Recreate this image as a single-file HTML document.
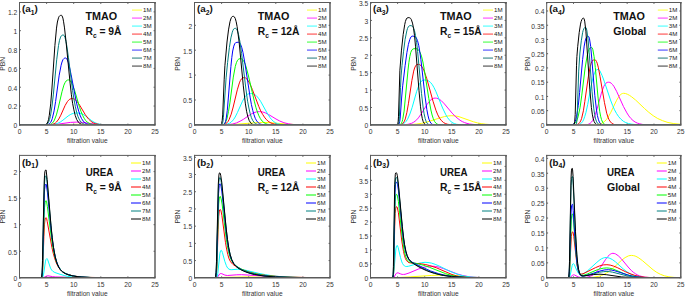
<!DOCTYPE html><html><head><meta charset="utf-8"><style>html,body{margin:0;padding:0;background:#fff;overflow:hidden}svg{display:block}text{font-family:"Liberation Sans",sans-serif}</style></head><body>
<svg width="685" height="296" viewBox="0 0 685 296">
<rect x="0" y="0" width="685" height="296" fill="#fff"/>
<clipPath id="ca1"><rect x="19.5" y="2.5" width="135.5" height="121.75"/></clipPath>
<g clip-path="url(#ca1)" fill="none" stroke-width="1.0" stroke-linejoin="round">
<path d="M19.5,124.9 L50.1,124.8 L79.1,124.3 L110.1,124.9 L155.0,124.9" stroke="#ffff00"/>
<path d="M19.5,124.9 L43.4,124.9 L51.9,124.7 L58.5,124.1 L70.4,122.4 L76.4,122.1 L82.3,122.4 L96.0,124.2 L103.5,124.7 L114.5,124.9 L155.0,124.9" stroke="#ff00ff"/>
<path d="M19.5,124.9 L47.8,124.9 L51.7,124.7 L54.7,124.3 L57.7,123.3 L60.5,121.9 L62.9,120.2 L68.1,116.0 L70.8,114.3 L73.7,113.2 L77.0,112.9 L80.0,113.2 L82.7,114.2 L85.4,115.8 L91.2,120.3 L94.0,122.2 L97.2,123.6 L100.6,124.4 L104.0,124.8 L108.6,124.9 L155.0,124.9" stroke="#00ffff"/>
<path d="M19.5,124.9 L48.6,124.9 L51.9,124.5 L54.1,123.8 L55.3,123.1 L56.5,122.0 L58.8,119.0 L60.8,115.2 L65.1,105.5 L67.4,101.6 L68.6,100.2 L69.8,99.2 L71.1,98.7 L72.6,98.6 L73.7,98.8 L74.9,99.4 L76.1,100.4 L77.3,101.8 L79.6,105.1 L85.3,114.7 L88.6,119.1 L90.3,120.7 L91.9,122.0 L93.7,123.0 L95.5,123.7 L99.4,124.5 L105.2,124.8 L155.0,124.9" stroke="#ff0000"/>
<path d="M19.5,124.9 L47.4,124.8 L50.2,124.4 L51.3,123.9 L52.3,123.1 L53.4,121.9 L54.4,120.1 L56.4,114.9 L58.2,108.1 L62.0,91.7 L63.9,85.1 L65.0,82.7 L66.2,80.9 L67.4,80.1 L68.7,79.9 L69.6,80.1 L70.7,81.1 L71.7,82.9 L72.8,85.3 L74.8,91.1 L79.6,107.4 L81.1,111.7 L82.6,115.3 L84.1,118.2 L85.6,120.4 L87.2,122.1 L89.1,123.3 L90.7,124.0 L92.5,124.4 L97.6,124.8 L155.0,124.9" stroke="#00ff00"/>
<path d="M19.5,124.9 L46.3,124.8 L47.7,124.6 L48.7,124.2 L49.6,123.6 L50.5,122.6 L51.4,121.0 L52.3,118.5 L54.1,110.9 L55.6,101.5 L59.2,75.2 L61.1,65.3 L62.0,62.0 L63.0,59.6 L64.1,58.4 L64.7,58.1 L65.6,58.0 L66.5,58.5 L67.4,60.0 L68.3,62.4 L69.3,66.2 L71.1,74.7 L75.8,99.4 L77.3,106.1 L78.7,111.1 L80.0,115.1 L81.5,118.5 L83.2,121.1 L85.0,122.8 L86.5,123.7 L88.3,124.3 L90.4,124.7 L93.3,124.8 L155.0,124.9" stroke="#0000ff"/>
<path d="M19.5,124.9 L44.8,124.8 L46.0,124.6 L47.1,124.0 L48.0,123.1 L48.7,121.8 L49.6,119.4 L50.4,116.4 L52.0,106.2 L53.4,94.1 L56.7,59.8 L58.5,45.6 L59.5,40.3 L60.6,37.1 L61.2,36.0 L61.8,35.4 L62.4,35.1 L63.3,35.0 L64.1,35.5 L65.0,37.5 L65.9,41.0 L66.8,45.8 L68.4,57.2 L72.6,90.5 L74.0,99.4 L75.4,106.8 L76.7,112.6 L78.1,116.9 L79.6,120.1 L81.4,122.5 L82.7,123.5 L84.4,124.3 L86.3,124.7 L89.1,124.8 L155.0,124.9" stroke="#008080"/>
<path d="M19.5,124.9 L44.5,124.8 L45.5,124.6 L46.4,124.1 L47.2,123.1 L47.8,121.9 L48.6,119.3 L49.3,115.3 L50.7,103.9 L51.9,89.0 L54.9,45.5 L56.5,28.1 L57.4,22.0 L58.5,17.8 L59.1,16.5 L59.7,15.8 L60.5,15.4 L61.4,15.3 L61.8,15.5 L62.1,16.0 L62.9,18.1 L63.6,21.8 L64.5,27.9 L66.0,41.3 L70.1,83.2 L71.4,94.8 L72.6,103.3 L73.9,109.9 L75.2,115.4 L76.7,119.5 L78.4,122.2 L79.7,123.4 L81.2,124.2 L83.0,124.6 L85.6,124.8 L155.0,124.9" stroke="#000000"/>
</g>
<path d="M19.5,2.0V125.6M19.0,2.5H155.7" fill="none" stroke="#5a5a5a" stroke-width="1"/>
<path d="M155.0,2.0V125.7M19.0,125.0H155.7" fill="none" stroke="#5a5a5a" stroke-width="1.45"/>
<text x="19.50" y="134.20" font-size="6.7" fill="#333" text-anchor="middle">0</text>
<text x="46.60" y="134.20" font-size="6.7" fill="#333" text-anchor="middle">5</text>
<text x="73.70" y="134.20" font-size="6.7" fill="#333" text-anchor="middle">10</text>
<text x="100.80" y="134.20" font-size="6.7" fill="#333" text-anchor="middle">15</text>
<text x="127.90" y="134.20" font-size="6.7" fill="#333" text-anchor="middle">20</text>
<text x="155.00" y="134.20" font-size="6.7" fill="#333" text-anchor="middle">25</text>
<text x="17.20" y="128.20" font-size="6.7" fill="#333" text-anchor="end">0</text>
<text x="17.20" y="109.36" font-size="6.7" fill="#333" text-anchor="end">0.2</text>
<text x="17.20" y="90.52" font-size="6.7" fill="#333" text-anchor="end">0.4</text>
<text x="17.20" y="71.68" font-size="6.7" fill="#333" text-anchor="end">0.6</text>
<text x="17.20" y="52.84" font-size="6.7" fill="#333" text-anchor="end">0.8</text>
<text x="17.20" y="34.00" font-size="6.7" fill="#333" text-anchor="end">1</text>
<text x="17.20" y="15.16" font-size="6.7" fill="#333" text-anchor="end">1.2</text>
<path d="M19.50,125.0v-1.4M19.50,2.5v1.4M46.60,125.0v-1.4M46.60,2.5v1.4M73.70,125.0v-1.4M73.70,2.5v1.4M100.80,125.0v-1.4M100.80,2.5v1.4M127.90,125.0v-1.4M127.90,2.5v1.4M155.00,125.0v-1.4M155.00,2.5v1.4M19.5,124.90h1.4M155.0,124.90h-1.4M19.5,106.06h1.4M155.0,106.06h-1.4M19.5,87.22h1.4M155.0,87.22h-1.4M19.5,68.38h1.4M155.0,68.38h-1.4M19.5,49.54h1.4M155.0,49.54h-1.4M19.5,30.70h1.4M155.0,30.70h-1.4M19.5,11.86h1.4M155.0,11.86h-1.4" stroke="#5a5a5a" stroke-width="1.0"/>
<text x="87.25" y="143.00" font-size="6.6" fill="#333" text-anchor="middle">filtration value</text>
<text transform="translate(5.00,63.75) rotate(-90)" font-size="6.8" fill="#333" text-anchor="middle">PBN</text>
<text x="22.10" y="12.40" font-size="9.8" font-weight="bold" fill="#111">(<tspan>a</tspan><tspan font-size="6.8" dy="2.4">1</tspan><tspan dy="-2.4">)</tspan></text>
<text x="85.5" y="19.60" font-size="10.3" font-weight="bold" fill="#111" textLength="31.7" lengthAdjust="spacingAndGlyphs">TMAO</text>
<text x="85.5" y="34.90" font-size="10.3" font-weight="bold" fill="#111">R<tspan font-size="6.6" dy="2.7">c</tspan><tspan dy="-2.7"> = 9Å</tspan></text>
<line x1="132.00" y1="10.10" x2="142.00" y2="10.10" stroke="#ffff70" stroke-width="1.4"/>
<text x="143.00" y="12.35" font-size="6.2" fill="#222">1M</text>
<line x1="132.00" y1="18.10" x2="142.00" y2="18.10" stroke="#ff70ff" stroke-width="1.4"/>
<text x="143.00" y="20.35" font-size="6.2" fill="#222">2M</text>
<line x1="132.00" y1="26.10" x2="142.00" y2="26.10" stroke="#70ffff" stroke-width="1.4"/>
<text x="143.00" y="28.35" font-size="6.2" fill="#222">3M</text>
<line x1="132.00" y1="34.10" x2="142.00" y2="34.10" stroke="#ff7070" stroke-width="1.4"/>
<text x="143.00" y="36.35" font-size="6.2" fill="#222">4M</text>
<line x1="132.00" y1="42.10" x2="142.00" y2="42.10" stroke="#70ff70" stroke-width="1.4"/>
<text x="143.00" y="44.35" font-size="6.2" fill="#222">5M</text>
<line x1="132.00" y1="50.10" x2="142.00" y2="50.10" stroke="#7070ff" stroke-width="1.4"/>
<text x="143.00" y="52.35" font-size="6.2" fill="#222">6M</text>
<line x1="132.00" y1="58.10" x2="142.00" y2="58.10" stroke="#60a0a0" stroke-width="1.4"/>
<text x="143.00" y="60.35" font-size="6.2" fill="#222">7M</text>
<line x1="132.00" y1="66.10" x2="142.00" y2="66.10" stroke="#707070" stroke-width="1.4"/>
<text x="143.00" y="68.35" font-size="6.2" fill="#222">8M</text>
<clipPath id="ca2"><rect x="194.5" y="2.5" width="135.5" height="121.75"/></clipPath>
<g clip-path="url(#ca2)" fill="none" stroke-width="1.0" stroke-linejoin="round">
<path d="M194.5,124.9 L217.2,124.9 L229.1,124.6 L238.5,124.1 L255.2,122.7 L262.9,122.4 L270.5,122.7 L287.1,124.1 L296.3,124.6 L308.0,124.9 L330.0,124.9" stroke="#ffff00"/>
<path d="M194.5,124.9 L223.3,124.8 L228.5,124.5 L232.6,124.0 L236.5,122.9 L240.1,121.2 L243.3,119.4 L250.1,114.7 L253.2,113.0 L256.4,111.9 L259.5,111.6 L262.4,111.9 L265.4,112.9 L268.6,114.5 L276.0,119.0 L279.7,121.0 L283.9,122.7 L288.4,123.8 L293.3,124.5 L299.6,124.8 L330.0,124.9" stroke="#ff00ff"/>
<path d="M194.5,124.9 L222.8,124.8 L226.7,124.3 L229.6,123.2 L231.1,122.2 L232.4,120.9 L233.8,119.2 L235.2,117.0 L237.4,112.6 L242.5,101.2 L244.9,96.9 L246.3,95.3 L247.5,94.3 L248.9,93.7 L250.4,93.5 L252.3,93.7 L254.1,94.3 L255.8,95.3 L257.4,96.9 L258.9,98.8 L260.6,101.3 L267.1,113.0 L270.1,117.7 L271.7,119.7 L273.5,121.4 L275.3,122.7 L277.2,123.6 L280.8,124.5 L285.7,124.8 L330.0,124.9" stroke="#00ffff"/>
<path d="M194.5,124.9 L221.6,124.8 L224.6,124.3 L225.8,123.7 L226.9,122.8 L228.1,121.4 L229.1,119.6 L231.2,114.2 L233.2,107.0 L237.3,89.8 L239.4,82.9 L240.4,80.5 L241.6,78.7 L242.8,77.8 L244.3,77.6 L245.5,77.9 L246.9,79.0 L248.2,80.8 L249.8,83.5 L252.3,89.4 L258.8,106.5 L260.7,110.9 L262.6,114.3 L264.4,117.1 L266.2,119.4 L268.1,121.2 L270.1,122.5 L272.2,123.5 L274.4,124.1 L277.3,124.5 L280.8,124.8 L330.0,124.9" stroke="#ff0000"/>
<path d="M194.5,124.9 L221.1,124.8 L223.4,124.4 L224.3,123.8 L225.1,123.0 L226.0,121.3 L226.9,118.9 L228.5,111.5 L229.9,102.9 L233.3,77.1 L235.3,66.4 L236.4,62.7 L237.6,60.2 L238.2,59.5 L238.9,58.9 L240.7,58.7 L242.1,59.0 L243.4,60.5 L244.8,63.1 L246.1,66.9 L248.5,76.0 L254.3,101.2 L255.9,107.4 L257.4,112.0 L258.9,115.8 L260.4,118.7 L262.1,121.0 L263.8,122.5 L265.4,123.5 L267.2,124.2 L269.5,124.6 L272.5,124.8 L330.0,124.9" stroke="#00ff00"/>
<path d="M194.5,124.9 L222.2,124.9 L223.9,124.5 L224.9,123.2 L225.5,121.6 L226.1,119.0 L227.3,110.4 L230.9,66.6 L231.8,57.6 L232.7,51.0 L233.8,46.1 L234.8,43.6 L235.5,42.8 L236.1,42.5 L238.2,42.2 L238.8,42.3 L239.4,42.6 L240.6,44.4 L241.8,47.7 L243.0,52.6 L245.1,64.3 L250.1,97.1 L251.4,104.5 L252.8,110.6 L254.0,114.8 L255.3,118.4 L256.7,120.9 L258.2,122.7 L259.5,123.7 L261.0,124.3 L262.9,124.7 L265.4,124.8 L330.0,124.9" stroke="#0000ff"/>
<path d="M194.5,124.9 L220.2,124.9 L221.6,124.6 L222.4,123.6 L223.0,121.2 L223.4,117.7 L226.1,77.9 L227.6,62.5 L229.4,47.4 L230.9,37.9 L232.3,32.2 L232.9,30.5 L233.6,29.1 L234.4,28.5 L235.3,28.3 L235.9,28.4 L236.5,29.0 L237.6,31.1 L238.6,34.8 L239.8,41.0 L241.6,53.6 L246.3,92.0 L247.6,101.2 L248.9,108.0 L250.1,113.3 L251.4,117.7 L252.8,120.6 L254.3,122.7 L255.5,123.6 L257.0,124.3 L258.8,124.7 L261.2,124.9 L330.0,124.9" stroke="#008080"/>
<path d="M194.5,124.9 L219.6,124.9 L220.8,124.6 L221.6,123.5 L222.2,120.4 L222.7,114.9 L224.2,79.2 L224.9,65.7 L227.0,42.0 L228.5,29.9 L230.0,21.6 L230.8,19.0 L231.5,17.4 L232.3,16.5 L233.2,16.3 L233.8,16.5 L234.4,16.9 L235.3,18.6 L236.2,21.8 L237.1,26.5 L239.1,41.8 L243.3,85.9 L245.4,103.9 L246.6,111.3 L247.8,116.6 L249.2,120.5 L250.7,122.9 L251.7,123.9 L252.9,124.4 L254.4,124.7 L256.5,124.9 L330.0,124.9" stroke="#000000"/>
</g>
<path d="M194.5,2.0V125.6M194.0,2.5H330.7" fill="none" stroke="#5a5a5a" stroke-width="1"/>
<path d="M330.0,2.0V125.7M194.0,125.0H330.7" fill="none" stroke="#5a5a5a" stroke-width="1.45"/>
<text x="194.50" y="134.20" font-size="6.7" fill="#333" text-anchor="middle">0</text>
<text x="221.60" y="134.20" font-size="6.7" fill="#333" text-anchor="middle">5</text>
<text x="248.70" y="134.20" font-size="6.7" fill="#333" text-anchor="middle">10</text>
<text x="275.80" y="134.20" font-size="6.7" fill="#333" text-anchor="middle">15</text>
<text x="302.90" y="134.20" font-size="6.7" fill="#333" text-anchor="middle">20</text>
<text x="330.00" y="134.20" font-size="6.7" fill="#333" text-anchor="middle">25</text>
<text x="192.20" y="128.20" font-size="6.7" fill="#333" text-anchor="end">0</text>
<text x="192.20" y="103.30" font-size="6.7" fill="#333" text-anchor="end">0.5</text>
<text x="192.20" y="78.40" font-size="6.7" fill="#333" text-anchor="end">1</text>
<text x="192.20" y="53.50" font-size="6.7" fill="#333" text-anchor="end">1.5</text>
<text x="192.20" y="28.60" font-size="6.7" fill="#333" text-anchor="end">2</text>
<path d="M194.50,125.0v-1.4M194.50,2.5v1.4M221.60,125.0v-1.4M221.60,2.5v1.4M248.70,125.0v-1.4M248.70,2.5v1.4M275.80,125.0v-1.4M275.80,2.5v1.4M302.90,125.0v-1.4M302.90,2.5v1.4M330.00,125.0v-1.4M330.00,2.5v1.4M194.5,124.90h1.4M330.0,124.90h-1.4M194.5,100.00h1.4M330.0,100.00h-1.4M194.5,75.10h1.4M330.0,75.10h-1.4M194.5,50.20h1.4M330.0,50.20h-1.4M194.5,25.30h1.4M330.0,25.30h-1.4" stroke="#5a5a5a" stroke-width="1.0"/>
<text x="262.25" y="143.00" font-size="6.6" fill="#333" text-anchor="middle">filtration value</text>
<text transform="translate(180.00,63.75) rotate(-90)" font-size="6.8" fill="#333" text-anchor="middle">PBN</text>
<text x="197.10" y="12.40" font-size="9.8" font-weight="bold" fill="#111">(<tspan>a</tspan><tspan font-size="6.8" dy="2.4">2</tspan><tspan dy="-2.4">)</tspan></text>
<text x="257.8" y="19.60" font-size="10.3" font-weight="bold" fill="#111" textLength="31.7" lengthAdjust="spacingAndGlyphs">TMAO</text>
<text x="257.8" y="34.90" font-size="10.3" font-weight="bold" fill="#111">R<tspan font-size="6.6" dy="2.7">c</tspan><tspan dy="-2.7"> = 12Å</tspan></text>
<line x1="307.00" y1="10.10" x2="317.00" y2="10.10" stroke="#ffff70" stroke-width="1.4"/>
<text x="318.00" y="12.35" font-size="6.2" fill="#222">1M</text>
<line x1="307.00" y1="18.10" x2="317.00" y2="18.10" stroke="#ff70ff" stroke-width="1.4"/>
<text x="318.00" y="20.35" font-size="6.2" fill="#222">2M</text>
<line x1="307.00" y1="26.10" x2="317.00" y2="26.10" stroke="#70ffff" stroke-width="1.4"/>
<text x="318.00" y="28.35" font-size="6.2" fill="#222">3M</text>
<line x1="307.00" y1="34.10" x2="317.00" y2="34.10" stroke="#ff7070" stroke-width="1.4"/>
<text x="318.00" y="36.35" font-size="6.2" fill="#222">4M</text>
<line x1="307.00" y1="42.10" x2="317.00" y2="42.10" stroke="#70ff70" stroke-width="1.4"/>
<text x="318.00" y="44.35" font-size="6.2" fill="#222">5M</text>
<line x1="307.00" y1="50.10" x2="317.00" y2="50.10" stroke="#7070ff" stroke-width="1.4"/>
<text x="318.00" y="52.35" font-size="6.2" fill="#222">6M</text>
<line x1="307.00" y1="58.10" x2="317.00" y2="58.10" stroke="#60a0a0" stroke-width="1.4"/>
<text x="318.00" y="60.35" font-size="6.2" fill="#222">7M</text>
<line x1="307.00" y1="66.10" x2="317.00" y2="66.10" stroke="#707070" stroke-width="1.4"/>
<text x="318.00" y="68.35" font-size="6.2" fill="#222">8M</text>
<clipPath id="ca3"><rect x="370.5" y="2.5" width="135.5" height="121.75"/></clipPath>
<g clip-path="url(#ca3)" fill="none" stroke-width="1.0" stroke-linejoin="round">
<path d="M370.5,124.9 L403.2,124.8 L410.5,124.6 L416.4,124.1 L421.7,123.3 L426.8,122.1 L440.5,117.7 L444.4,116.6 L448.2,115.9 L451.8,115.7 L455.3,115.9 L459.0,116.7 L473.5,121.8 L477.4,122.9 L481.2,123.6 L485.5,124.2 L490.6,124.6 L506.0,124.9" stroke="#ffff00"/>
<path d="M370.5,124.9 L403.0,124.8 L408.0,124.3 L411.6,123.3 L413.4,122.4 L415.1,121.2 L416.7,119.8 L418.4,117.9 L421.2,113.9 L427.1,104.4 L429.8,100.9 L431.2,99.6 L432.5,98.7 L433.9,98.2 L435.2,98.1 L436.6,98.2 L438.1,98.7 L439.6,99.5 L441.3,100.7 L444.4,103.9 L452.1,113.1 L455.9,117.0 L460.1,120.3 L462.3,121.6 L464.6,122.6 L467.0,123.4 L469.6,124.0 L475.9,124.7 L484.2,124.9 L506.0,124.9" stroke="#ff00ff"/>
<path d="M370.5,124.9 L398.7,124.8 L400.6,124.6 L402.3,124.2 L403.6,123.6 L404.8,122.7 L406.2,121.3 L407.5,119.3 L409.9,114.0 L412.1,107.6 L416.7,91.3 L419.1,84.8 L420.3,82.5 L421.5,81.0 L422.9,80.2 L424.4,80.0 L426.8,80.2 L428.8,81.0 L430.6,82.5 L432.4,84.8 L434.0,87.6 L435.8,91.3 L442.6,108.0 L445.8,114.7 L447.4,117.4 L449.2,119.8 L451.0,121.6 L453.0,123.0 L454.7,123.7 L456.6,124.3 L461.7,124.8 L506.0,124.9" stroke="#00ffff"/>
<path d="M370.5,124.9 L399.1,124.8 L400.6,124.6 L401.7,124.3 L402.6,123.7 L403.3,122.9 L404.4,121.2 L405.3,118.9 L406.9,112.3 L408.4,103.8 L411.9,80.4 L413.7,71.1 L414.6,68.0 L415.7,65.7 L416.7,64.6 L418.2,64.3 L419.7,64.6 L421.2,65.8 L422.6,67.7 L423.9,70.5 L426.8,78.7 L433.0,101.2 L436.0,110.5 L437.8,114.9 L439.6,118.2 L441.4,120.6 L443.5,122.5 L445.3,123.5 L447.3,124.2 L449.5,124.6 L452.6,124.8 L506.0,124.9" stroke="#ff0000"/>
<path d="M370.5,124.9 L398.5,124.9 L400.2,124.5 L400.8,124.1 L401.4,123.4 L402.1,121.7 L402.7,119.5 L404.1,111.1 L408.0,70.1 L408.9,62.4 L409.8,56.6 L410.8,52.3 L411.9,49.9 L413.1,48.9 L415.2,48.6 L417.3,48.9 L418.8,50.1 L420.3,52.9 L421.7,56.9 L422.9,62.0 L424.2,69.2 L428.8,98.5 L430.9,110.0 L432.1,115.0 L433.3,118.7 L434.6,121.5 L436.1,123.4 L437.2,124.1 L438.4,124.5 L441.9,124.9 L506.0,124.9" stroke="#00ff00"/>
<path d="M370.5,124.9 L397.1,124.9 L398.4,124.7 L399.1,123.9 L399.7,121.7 L400.2,118.1 L401.7,97.0 L402.7,85.8 L405.1,65.7 L406.9,52.6 L408.4,44.4 L409.8,39.4 L410.4,38.0 L411.1,36.8 L411.9,36.2 L412.8,36.1 L414.8,36.4 L415.5,36.9 L416.3,37.9 L417.5,40.6 L418.7,45.3 L419.7,51.1 L420.9,59.6 L425.0,96.0 L426.8,109.4 L427.9,115.1 L428.9,119.1 L430.0,121.8 L431.3,123.6 L432.2,124.3 L433.1,124.6 L436.0,124.9 L506.0,124.9" stroke="#0000ff"/>
<path d="M370.5,124.9 L397.0,124.9 L398.1,124.7 L398.5,124.1 L399.0,122.3 L399.4,116.8 L400.5,87.4 L401.1,75.9 L402.0,65.6 L403.5,51.8 L405.1,39.4 L406.8,30.9 L407.5,28.5 L408.3,26.8 L409.2,25.9 L410.1,25.6 L411.1,25.7 L411.9,25.9 L412.7,26.6 L413.3,27.4 L414.5,30.7 L415.5,35.5 L416.6,42.3 L417.6,51.3 L421.5,93.4 L423.2,108.0 L424.1,113.8 L425.2,118.6 L426.2,121.7 L427.4,123.6 L428.2,124.2 L429.1,124.6 L431.8,124.9 L506.0,124.9" stroke="#008080"/>
<path d="M370.5,124.9 L396.4,124.9 L397.3,124.7 L397.8,124.0 L398.2,121.2 L398.5,116.2 L399.9,70.2 L401.4,50.9 L403.2,34.4 L404.7,24.7 L405.4,21.5 L406.3,19.0 L407.1,18.0 L408.1,17.6 L409.3,17.7 L410.1,18.0 L410.7,18.5 L411.3,19.5 L412.5,23.1 L413.6,28.7 L414.5,35.6 L415.5,46.2 L419.0,90.7 L420.5,106.8 L421.4,113.7 L422.3,118.5 L423.2,121.6 L424.4,123.7 L425.2,124.4 L425.9,124.7 L428.3,124.9 L506.0,124.9" stroke="#000000"/>
</g>
<path d="M370.5,2.0V125.6M370.0,2.5H506.7" fill="none" stroke="#5a5a5a" stroke-width="1"/>
<path d="M506.0,2.0V125.7M370.0,125.0H506.7" fill="none" stroke="#5a5a5a" stroke-width="1.45"/>
<text x="370.50" y="134.20" font-size="6.7" fill="#333" text-anchor="middle">0</text>
<text x="397.60" y="134.20" font-size="6.7" fill="#333" text-anchor="middle">5</text>
<text x="424.70" y="134.20" font-size="6.7" fill="#333" text-anchor="middle">10</text>
<text x="451.80" y="134.20" font-size="6.7" fill="#333" text-anchor="middle">15</text>
<text x="478.90" y="134.20" font-size="6.7" fill="#333" text-anchor="middle">20</text>
<text x="506.00" y="134.20" font-size="6.7" fill="#333" text-anchor="middle">25</text>
<text x="368.20" y="128.20" font-size="6.7" fill="#333" text-anchor="end">0</text>
<text x="368.20" y="110.79" font-size="6.7" fill="#333" text-anchor="end">0.5</text>
<text x="368.20" y="93.37" font-size="6.7" fill="#333" text-anchor="end">1</text>
<text x="368.20" y="75.95" font-size="6.7" fill="#333" text-anchor="end">1.5</text>
<text x="368.20" y="58.54" font-size="6.7" fill="#333" text-anchor="end">2</text>
<text x="368.20" y="41.13" font-size="6.7" fill="#333" text-anchor="end">2.5</text>
<text x="368.20" y="23.71" font-size="6.7" fill="#333" text-anchor="end">3</text>
<text x="368.20" y="6.30" font-size="6.7" fill="#333" text-anchor="end">3.5</text>
<path d="M370.50,125.0v-1.4M370.50,2.5v1.4M397.60,125.0v-1.4M397.60,2.5v1.4M424.70,125.0v-1.4M424.70,2.5v1.4M451.80,125.0v-1.4M451.80,2.5v1.4M478.90,125.0v-1.4M478.90,2.5v1.4M506.00,125.0v-1.4M506.00,2.5v1.4M370.5,124.90h1.4M506.0,124.90h-1.4M370.5,107.49h1.4M506.0,107.49h-1.4M370.5,90.07h1.4M506.0,90.07h-1.4M370.5,72.66h1.4M506.0,72.66h-1.4M370.5,55.24h1.4M506.0,55.24h-1.4M370.5,37.83h1.4M506.0,37.83h-1.4M370.5,20.41h1.4M506.0,20.41h-1.4M370.5,3.00h1.4M506.0,3.00h-1.4" stroke="#5a5a5a" stroke-width="1.0"/>
<text x="438.25" y="143.00" font-size="6.6" fill="#333" text-anchor="middle">filtration value</text>
<text transform="translate(356.00,63.75) rotate(-90)" font-size="6.8" fill="#333" text-anchor="middle">PBN</text>
<text x="373.10" y="12.40" font-size="9.8" font-weight="bold" fill="#111">(<tspan>a</tspan><tspan font-size="6.8" dy="2.4">3</tspan><tspan dy="-2.4">)</tspan></text>
<text x="440.0" y="19.60" font-size="10.3" font-weight="bold" fill="#111" textLength="31.7" lengthAdjust="spacingAndGlyphs">TMAO</text>
<text x="440.0" y="34.90" font-size="10.3" font-weight="bold" fill="#111">R<tspan font-size="6.6" dy="2.7">c</tspan><tspan dy="-2.7"> = 15Å</tspan></text>
<line x1="483.00" y1="10.10" x2="493.00" y2="10.10" stroke="#ffff70" stroke-width="1.4"/>
<text x="494.00" y="12.35" font-size="6.2" fill="#222">1M</text>
<line x1="483.00" y1="18.10" x2="493.00" y2="18.10" stroke="#ff70ff" stroke-width="1.4"/>
<text x="494.00" y="20.35" font-size="6.2" fill="#222">2M</text>
<line x1="483.00" y1="26.10" x2="493.00" y2="26.10" stroke="#70ffff" stroke-width="1.4"/>
<text x="494.00" y="28.35" font-size="6.2" fill="#222">3M</text>
<line x1="483.00" y1="34.10" x2="493.00" y2="34.10" stroke="#ff7070" stroke-width="1.4"/>
<text x="494.00" y="36.35" font-size="6.2" fill="#222">4M</text>
<line x1="483.00" y1="42.10" x2="493.00" y2="42.10" stroke="#70ff70" stroke-width="1.4"/>
<text x="494.00" y="44.35" font-size="6.2" fill="#222">5M</text>
<line x1="483.00" y1="50.10" x2="493.00" y2="50.10" stroke="#7070ff" stroke-width="1.4"/>
<text x="494.00" y="52.35" font-size="6.2" fill="#222">6M</text>
<line x1="483.00" y1="58.10" x2="493.00" y2="58.10" stroke="#60a0a0" stroke-width="1.4"/>
<text x="494.00" y="60.35" font-size="6.2" fill="#222">7M</text>
<line x1="483.00" y1="66.10" x2="493.00" y2="66.10" stroke="#707070" stroke-width="1.4"/>
<text x="494.00" y="68.35" font-size="6.2" fill="#222">8M</text>
<clipPath id="ca4"><rect x="546.7" y="2.5" width="134.0999999999999" height="121.75"/></clipPath>
<g clip-path="url(#ca4)" fill="none" stroke-width="1.0" stroke-linejoin="round">
<path d="M546.7,124.9 L592.7,124.8 L597.8,124.5 L601.2,123.6 L603.0,122.6 L604.8,121.2 L606.4,119.5 L608.1,117.2 L610.9,112.2 L616.6,100.3 L619.0,96.3 L620.2,94.9 L621.2,94.1 L622.4,93.5 L623.6,93.3 L625.4,93.5 L627.3,94.2 L629.4,95.3 L631.6,96.8 L635.7,100.1 L644.6,108.6 L648.8,112.3 L653.2,115.7 L657.7,118.5 L662.6,120.7 L668.0,122.5 L673.8,123.6 L680.8,124.3" stroke="#ffff00"/>
<path d="M546.7,124.9 L584.2,124.9 L587.7,124.5 L589.0,124.0 L590.1,123.4 L591.4,122.2 L592.6,120.5 L593.8,118.3 L595.0,115.4 L597.1,108.9 L601.4,93.1 L603.6,86.8 L604.8,84.6 L606.0,83.1 L607.2,82.4 L608.7,82.2 L609.9,82.4 L611.2,83.2 L612.4,84.4 L613.8,86.2 L616.6,91.3 L623.4,106.4 L626.9,112.9 L628.8,115.9 L630.9,118.5 L633.0,120.5 L635.1,122.0 L637.3,123.1 L639.7,123.8 L642.4,124.4 L645.6,124.7 L653.5,124.9 L680.8,124.9" stroke="#ff00ff"/>
<path d="M546.7,124.9 L576.5,124.8 L579.5,124.3 L580.5,123.7 L581.6,122.9 L582.8,121.3 L583.8,119.2 L584.8,116.3 L585.9,112.7 L587.7,104.6 L591.7,83.2 L593.6,75.4 L594.7,72.5 L595.7,70.7 L596.8,69.7 L598.1,69.4 L599.0,69.8 L599.9,70.9 L602.1,75.5 L604.2,81.2 L610.5,100.0 L612.6,105.4 L614.5,109.8 L616.6,113.6 L618.7,116.7 L620.9,119.2 L623.4,121.3 L625.8,122.6 L628.6,123.6 L631.8,124.2 L635.8,124.6 L645.5,124.9 L680.8,124.9" stroke="#00ffff"/>
<path d="M546.7,124.9 L575.3,124.8 L576.8,124.6 L577.8,124.3 L578.7,123.7 L579.6,122.7 L580.7,120.9 L581.6,118.5 L583.4,110.8 L584.8,101.6 L588.3,76.9 L590.1,67.1 L591.0,63.8 L592.0,61.3 L593.2,60.0 L594.5,59.7 L595.1,59.8 L595.6,60.1 L596.5,61.5 L597.4,63.8 L598.4,67.8 L600.0,76.3 L604.4,102.3 L606.7,113.2 L607.9,117.0 L609.1,119.8 L610.5,121.9 L611.8,123.3 L613.0,124.0 L614.3,124.5 L618.5,124.9 L680.8,124.9" stroke="#ff0000"/>
<path d="M546.7,124.9 L571.7,124.8 L573.2,124.5 L574.4,123.9 L575.3,123.1 L576.2,121.9 L577.2,119.6 L578.1,116.8 L580.1,107.3 L581.7,95.9 L585.1,68.1 L587.1,56.1 L588.1,51.8 L589.2,49.2 L590.2,47.8 L590.8,47.5 L591.5,47.4 L592.0,47.6 L592.3,48.0 L592.9,49.8 L594.1,56.7 L595.3,67.6 L598.1,98.1 L599.7,111.3 L600.6,116.2 L601.5,119.6 L602.6,122.2 L603.8,123.7 L604.5,124.3 L605.6,124.6 L608.5,124.9 L680.8,124.9" stroke="#00ff00"/>
<path d="M546.7,124.9 L571.3,124.8 L572.5,124.5 L573.5,124.0 L574.3,123.2 L575.0,121.8 L575.9,119.3 L576.6,116.2 L578.3,105.4 L579.6,92.6 L582.6,59.7 L584.2,46.1 L585.1,41.2 L586.0,38.2 L586.9,36.8 L587.5,36.4 L588.1,36.3 L588.6,36.5 L588.9,36.9 L589.5,38.8 L590.7,46.5 L591.8,58.9 L594.8,95.3 L596.5,110.1 L597.4,115.5 L598.3,119.2 L599.3,122.0 L600.5,123.7 L601.2,124.2 L602.3,124.6 L605.3,124.9 L680.8,124.9" stroke="#0000ff"/>
<path d="M546.7,124.9 L574.7,124.9 L575.8,124.7 L576.4,123.8 L576.8,121.5 L577.2,115.6 L578.7,71.1 L579.9,53.0 L581.3,40.8 L582.6,32.7 L583.2,30.3 L584.0,28.4 L584.7,27.5 L585.4,27.2 L585.9,27.5 L586.2,28.0 L586.8,30.2 L588.0,39.0 L589.2,52.8 L592.0,91.2 L593.8,108.9 L594.7,114.8 L595.6,118.9 L596.6,121.8 L597.8,123.6 L598.6,124.2 L599.6,124.6 L602.6,124.9 L680.8,124.9" stroke="#008080"/>
<path d="M546.7,124.9 L572.8,124.9 L573.8,124.6 L574.3,124.0 L574.7,121.6 L575.2,114.6 L576.5,65.8 L576.9,56.6 L577.7,46.7 L579.2,32.6 L580.5,24.1 L581.1,21.6 L581.9,19.5 L582.6,18.4 L583.5,18.1 L583.8,18.3 L584.1,18.8 L584.7,21.1 L585.9,31.2 L589.8,89.1 L591.4,107.6 L592.3,114.2 L593.2,118.7 L594.1,121.5 L595.3,123.6 L596.0,124.2 L596.9,124.6 L599.9,124.9 L680.8,124.9" stroke="#000000"/>
</g>
<path d="M546.7,2.0V125.6M546.2,2.5H681.5" fill="none" stroke="#5a5a5a" stroke-width="1"/>
<path d="M680.8,2.0V125.7M546.2,125.0H681.5" fill="none" stroke="#5a5a5a" stroke-width="1.45"/>
<text x="546.70" y="134.20" font-size="6.7" fill="#333" text-anchor="middle">0</text>
<text x="573.52" y="134.20" font-size="6.7" fill="#333" text-anchor="middle">5</text>
<text x="600.34" y="134.20" font-size="6.7" fill="#333" text-anchor="middle">10</text>
<text x="627.16" y="134.20" font-size="6.7" fill="#333" text-anchor="middle">15</text>
<text x="653.98" y="134.20" font-size="6.7" fill="#333" text-anchor="middle">20</text>
<text x="680.80" y="134.20" font-size="6.7" fill="#333" text-anchor="middle">25</text>
<text x="544.40" y="128.20" font-size="6.7" fill="#333" text-anchor="end">0</text>
<text x="544.40" y="113.96" font-size="6.7" fill="#333" text-anchor="end">0.05</text>
<text x="544.40" y="99.73" font-size="6.7" fill="#333" text-anchor="end">0.1</text>
<text x="544.40" y="85.49" font-size="6.7" fill="#333" text-anchor="end">0.15</text>
<text x="544.40" y="71.25" font-size="6.7" fill="#333" text-anchor="end">0.2</text>
<text x="544.40" y="57.01" font-size="6.7" fill="#333" text-anchor="end">0.25</text>
<text x="544.40" y="42.78" font-size="6.7" fill="#333" text-anchor="end">0.3</text>
<text x="544.40" y="28.54" font-size="6.7" fill="#333" text-anchor="end">0.35</text>
<text x="544.40" y="14.30" font-size="6.7" fill="#333" text-anchor="end">0.4</text>
<path d="M546.70,125.0v-1.4M546.70,2.5v1.4M573.52,125.0v-1.4M573.52,2.5v1.4M600.34,125.0v-1.4M600.34,2.5v1.4M627.16,125.0v-1.4M627.16,2.5v1.4M653.98,125.0v-1.4M653.98,2.5v1.4M680.80,125.0v-1.4M680.80,2.5v1.4M546.7,124.90h1.4M680.8,124.90h-1.4M546.7,110.66h1.4M680.8,110.66h-1.4M546.7,96.43h1.4M680.8,96.43h-1.4M546.7,82.19h1.4M680.8,82.19h-1.4M546.7,67.95h1.4M680.8,67.95h-1.4M546.7,53.71h1.4M680.8,53.71h-1.4M546.7,39.48h1.4M680.8,39.48h-1.4M546.7,25.24h1.4M680.8,25.24h-1.4M546.7,11.00h1.4M680.8,11.00h-1.4" stroke="#5a5a5a" stroke-width="1.0"/>
<text x="613.75" y="143.00" font-size="6.6" fill="#333" text-anchor="middle">filtration value</text>
<text transform="translate(530.10,63.75) rotate(-90)" font-size="6.8" fill="#333" text-anchor="middle">PBN</text>
<text x="549.30" y="12.40" font-size="9.8" font-weight="bold" fill="#111">(<tspan>a</tspan><tspan font-size="6.8" dy="2.4">4</tspan><tspan dy="-2.4">)</tspan></text>
<text x="613.3" y="19.60" font-size="10.3" font-weight="bold" fill="#111" textLength="31.7" lengthAdjust="spacingAndGlyphs">TMAO</text>
<text x="613.3" y="34.90" font-size="10.3" font-weight="bold" fill="#111" textLength="32.95" lengthAdjust="spacingAndGlyphs">Global</text>
<line x1="657.80" y1="10.10" x2="667.80" y2="10.10" stroke="#ffff70" stroke-width="1.4"/>
<text x="668.80" y="12.35" font-size="6.2" fill="#222">1M</text>
<line x1="657.80" y1="18.10" x2="667.80" y2="18.10" stroke="#ff70ff" stroke-width="1.4"/>
<text x="668.80" y="20.35" font-size="6.2" fill="#222">2M</text>
<line x1="657.80" y1="26.10" x2="667.80" y2="26.10" stroke="#70ffff" stroke-width="1.4"/>
<text x="668.80" y="28.35" font-size="6.2" fill="#222">3M</text>
<line x1="657.80" y1="34.10" x2="667.80" y2="34.10" stroke="#ff7070" stroke-width="1.4"/>
<text x="668.80" y="36.35" font-size="6.2" fill="#222">4M</text>
<line x1="657.80" y1="42.10" x2="667.80" y2="42.10" stroke="#70ff70" stroke-width="1.4"/>
<text x="668.80" y="44.35" font-size="6.2" fill="#222">5M</text>
<line x1="657.80" y1="50.10" x2="667.80" y2="50.10" stroke="#7070ff" stroke-width="1.4"/>
<text x="668.80" y="52.35" font-size="6.2" fill="#222">6M</text>
<line x1="657.80" y1="58.10" x2="667.80" y2="58.10" stroke="#60a0a0" stroke-width="1.4"/>
<text x="668.80" y="60.35" font-size="6.2" fill="#222">7M</text>
<line x1="657.80" y1="66.10" x2="667.80" y2="66.10" stroke="#707070" stroke-width="1.4"/>
<text x="668.80" y="68.35" font-size="6.2" fill="#222">8M</text>
<clipPath id="cb1"><rect x="19.5" y="155.4" width="135.5" height="121.65"/></clipPath>
<g clip-path="url(#cb1)" fill="none" stroke-width="1.0" stroke-linejoin="round">
<path d="M19.5,277.8 L41.9,277.8 L62.9,277.4 L95.2,277.8 L155.0,277.8" stroke="#ffff00"/>
<path d="M19.5,277.8 L42.5,277.8 L44.0,277.4 L46.4,276.1 L48.0,275.8 L52.5,276.6 L55.2,276.9 L80.6,277.7 L155.0,277.8" stroke="#ff00ff"/>
<path d="M19.5,277.8 L40.9,277.8 L41.8,277.7 L42.4,277.5 L43.0,276.5 L43.6,274.2 L45.5,261.1 L46.1,259.3 L46.9,258.5 L47.2,258.8 L47.7,259.7 L50.5,268.1 L51.6,270.0 L52.8,271.3 L54.9,272.5 L60.1,274.3 L64.8,275.7 L69.0,276.6 L75.7,277.4 L84.5,277.7 L155.0,277.8" stroke="#00ffff"/>
<path d="M19.5,277.8 L41.2,277.8 L41.6,277.7 L41.9,277.3 L42.4,274.8 L42.8,267.5 L43.9,236.4 L44.5,224.1 L45.1,219.0 L45.5,218.0 L46.3,217.8 L46.6,218.4 L47.2,221.3 L51.9,247.4 L53.4,253.9 L54.9,259.1 L56.8,264.2 L58.9,267.9 L61.5,270.8 L64.7,273.1 L68.4,274.7 L73.1,275.9 L78.8,276.7 L85.9,277.3 L105.0,277.7 L155.0,277.8" stroke="#ff0000"/>
<path d="M19.5,277.8 L41.0,277.8 L41.6,277.6 L41.9,277.0 L42.4,273.2 L42.7,267.2 L43.9,222.8 L44.5,207.9 L45.1,202.1 L45.5,201.0 L46.3,200.8 L46.6,201.8 L47.4,206.7 L51.6,239.4 L52.9,247.6 L54.4,254.9 L56.2,261.3 L58.2,266.0 L60.5,269.5 L61.8,271.0 L63.3,272.2 L66.9,274.1 L71.4,275.5 L77.2,276.6 L84.4,277.2 L92.5,277.5 L103.7,277.7 L155.0,277.8" stroke="#00ff00"/>
<path d="M19.5,277.8 L41.0,277.8 L41.5,277.7 L41.8,277.2 L42.2,273.8 L42.7,263.2 L44.3,195.0 L44.6,189.6 L45.1,185.7 L45.5,184.5 L46.3,184.3 L47.4,192.1 L51.4,232.8 L52.6,242.2 L54.0,250.7 L55.6,258.4 L57.4,264.0 L59.5,268.2 L60.8,269.9 L62.3,271.4 L63.8,272.5 L65.6,273.6 L70.1,275.2 L75.8,276.4 L83.0,277.1 L91.2,277.5 L102.3,277.7 L155.0,277.8" stroke="#0000ff"/>
<path d="M19.5,277.8 L41.0,277.8 L41.5,277.6 L41.8,276.9 L42.2,272.5 L42.5,265.2 L43.7,206.9 L44.3,186.2 L44.9,177.9 L45.4,176.2 L45.7,175.9 L46.1,175.8 L46.4,176.8 L47.2,183.5 L51.3,229.4 L52.5,240.0 L53.8,249.4 L55.3,257.1 L57.1,263.4 L58.2,266.0 L59.2,267.9 L60.5,269.7 L61.8,271.1 L63.3,272.4 L65.1,273.4 L69.5,275.1 L75.1,276.3 L82.3,277.1 L90.3,277.5 L101.4,277.7 L155.0,277.8" stroke="#008080"/>
<path d="M19.5,277.8 L40.9,277.8 L41.3,277.7 L41.6,277.1 L42.1,272.9 L42.5,260.5 L44.2,182.0 L44.5,175.9 L44.9,171.5 L45.4,170.2 L46.1,170.0 L47.2,179.5 L51.0,225.8 L52.2,237.4 L53.5,247.7 L55.0,256.1 L56.8,262.9 L58.8,267.4 L60.0,269.3 L61.4,270.9 L62.9,272.2 L64.5,273.2 L66.5,274.2 L68.9,275.0 L74.5,276.3 L81.7,277.1 L89.7,277.5 L100.8,277.7 L155.0,277.8" stroke="#000000"/>
</g>
<path d="M19.5,154.9V278.40000000000003M19.0,155.4H155.7" fill="none" stroke="#5a5a5a" stroke-width="1"/>
<path d="M155.0,154.9V278.5M19.0,277.8H155.7" fill="none" stroke="#5a5a5a" stroke-width="1.45"/>
<text x="19.50" y="287.00" font-size="6.7" fill="#333" text-anchor="middle">0</text>
<text x="46.60" y="287.00" font-size="6.7" fill="#333" text-anchor="middle">5</text>
<text x="73.70" y="287.00" font-size="6.7" fill="#333" text-anchor="middle">10</text>
<text x="100.80" y="287.00" font-size="6.7" fill="#333" text-anchor="middle">15</text>
<text x="127.90" y="287.00" font-size="6.7" fill="#333" text-anchor="middle">20</text>
<text x="155.00" y="287.00" font-size="6.7" fill="#333" text-anchor="middle">25</text>
<text x="17.20" y="281.10" font-size="6.7" fill="#333" text-anchor="end">0</text>
<text x="17.20" y="254.55" font-size="6.7" fill="#333" text-anchor="end">0.5</text>
<text x="17.20" y="228.00" font-size="6.7" fill="#333" text-anchor="end">1</text>
<text x="17.20" y="201.45" font-size="6.7" fill="#333" text-anchor="end">1.5</text>
<text x="17.20" y="174.90" font-size="6.7" fill="#333" text-anchor="end">2</text>
<path d="M19.50,277.8v-1.4M19.50,155.4v1.4M46.60,277.8v-1.4M46.60,155.4v1.4M73.70,277.8v-1.4M73.70,155.4v1.4M100.80,277.8v-1.4M100.80,155.4v1.4M127.90,277.8v-1.4M127.90,155.4v1.4M155.00,277.8v-1.4M155.00,155.4v1.4M19.5,277.80h1.4M155.0,277.80h-1.4M19.5,251.25h1.4M155.0,251.25h-1.4M19.5,224.70h1.4M155.0,224.70h-1.4M19.5,198.15h1.4M155.0,198.15h-1.4M19.5,171.60h1.4M155.0,171.60h-1.4" stroke="#5a5a5a" stroke-width="1.0"/>
<text x="87.25" y="295.80" font-size="6.6" fill="#333" text-anchor="middle">filtration value</text>
<text transform="translate(5.00,216.60) rotate(-90)" font-size="6.8" fill="#333" text-anchor="middle">PBN</text>
<text x="22.10" y="165.80" font-size="9.8" font-weight="bold" fill="#111">(<tspan>b</tspan><tspan font-size="6.8" dy="2.4">1</tspan><tspan dy="-2.4">)</tspan></text>
<text x="85.7" y="175.70" font-size="10.3" font-weight="bold" fill="#111" textLength="27.6" lengthAdjust="spacingAndGlyphs">UREA</text>
<text x="85.7" y="191.00" font-size="10.3" font-weight="bold" fill="#111">R<tspan font-size="6.6" dy="2.7">c</tspan><tspan dy="-2.7"> = 9Å</tspan></text>
<line x1="131.00" y1="163.00" x2="141.00" y2="163.00" stroke="#ffff00" stroke-width="1.0"/>
<text x="142.00" y="165.25" font-size="6.2" fill="#222">1M</text>
<line x1="131.00" y1="171.00" x2="141.00" y2="171.00" stroke="#ff00ff" stroke-width="1.0"/>
<text x="142.00" y="173.25" font-size="6.2" fill="#222">2M</text>
<line x1="131.00" y1="179.00" x2="141.00" y2="179.00" stroke="#00ffff" stroke-width="1.0"/>
<text x="142.00" y="181.25" font-size="6.2" fill="#222">3M</text>
<line x1="131.00" y1="187.00" x2="141.00" y2="187.00" stroke="#ff0000" stroke-width="1.0"/>
<text x="142.00" y="189.25" font-size="6.2" fill="#222">4M</text>
<line x1="131.00" y1="195.00" x2="141.00" y2="195.00" stroke="#00ff00" stroke-width="1.0"/>
<text x="142.00" y="197.25" font-size="6.2" fill="#222">5M</text>
<line x1="131.00" y1="203.00" x2="141.00" y2="203.00" stroke="#0000ff" stroke-width="1.0"/>
<text x="142.00" y="205.25" font-size="6.2" fill="#222">6M</text>
<line x1="131.00" y1="211.00" x2="141.00" y2="211.00" stroke="#008080" stroke-width="1.0"/>
<text x="142.00" y="213.25" font-size="6.2" fill="#222">7M</text>
<line x1="131.00" y1="219.00" x2="141.00" y2="219.00" stroke="#000000" stroke-width="1.0"/>
<text x="142.00" y="221.25" font-size="6.2" fill="#222">8M</text>
<clipPath id="cb2"><rect x="194.5" y="155.4" width="135.5" height="121.65"/></clipPath>
<g clip-path="url(#cb2)" fill="none" stroke-width="1.0" stroke-linejoin="round">
<path d="M194.5,277.8 L216.5,277.8 L222.1,277.4 L248.7,276.9 L287.5,277.7 L330.0,277.8" stroke="#ffff00"/>
<path d="M194.5,277.8 L216.3,277.7 L216.9,277.5 L217.5,277.1 L219.6,274.0 L220.8,273.5 L221.8,273.7 L224.9,275.1 L227.3,275.5 L236.8,274.8 L241.6,274.7 L249.0,275.1 L271.0,276.6 L284.1,277.3 L302.3,277.7 L330.0,277.8" stroke="#ff00ff"/>
<path d="M194.5,277.8 L215.0,277.8 L216.0,277.7 L216.6,277.4 L217.2,276.4 L217.8,273.4 L219.9,253.3 L220.5,251.0 L220.8,250.5 L221.3,250.3 L221.8,250.9 L222.4,252.5 L224.8,261.3 L226.3,265.5 L227.0,267.0 L227.9,268.3 L229.0,269.1 L230.0,269.6 L231.8,269.7 L237.7,269.2 L241.3,269.5 L246.3,270.4 L258.9,273.4 L265.7,274.7 L273.2,275.9 L281.1,276.7 L289.2,277.3 L299.0,277.6 L330.0,277.8" stroke="#00ffff"/>
<path d="M194.5,277.8 L215.1,277.8 L215.7,277.6 L216.0,277.0 L216.5,274.1 L216.9,266.7 L218.1,229.8 L218.7,216.7 L219.3,211.0 L219.8,209.8 L220.4,209.6 L220.7,210.0 L221.0,210.9 L221.9,215.4 L225.5,242.7 L226.6,249.1 L227.8,254.6 L229.1,258.9 L230.6,261.8 L232.6,264.1 L235.5,266.2 L238.3,267.8 L241.6,269.4 L248.9,272.0 L257.0,274.0 L266.3,275.4 L277.0,276.4 L290.1,277.1 L306.8,277.5 L330.0,277.7" stroke="#ff0000"/>
<path d="M194.5,277.8 L215.0,277.8 L215.6,277.6 L215.9,277.2 L216.3,274.5 L216.8,267.0 L218.1,218.8 L218.7,204.0 L219.3,197.9 L219.8,196.7 L220.4,196.5 L221.1,198.8 L222.1,204.0 L226.1,237.5 L227.3,245.5 L228.5,251.7 L229.9,256.7 L231.5,260.7 L233.5,263.6 L236.1,265.9 L238.6,267.5 L241.8,269.2 L245.1,270.7 L248.7,272.0 L256.5,274.0 L265.7,275.6 L276.1,276.5 L289.0,277.2 L305.8,277.6 L330.0,277.7" stroke="#00ff00"/>
<path d="M194.5,277.8 L215.0,277.8 L215.6,277.5 L215.9,276.7 L216.3,272.5 L216.8,262.1 L218.0,211.2 L218.6,193.3 L219.2,185.7 L219.6,184.1 L220.2,183.8 L220.5,184.3 L221.0,186.1 L221.9,191.9 L226.3,233.0 L227.5,242.2 L228.7,249.3 L230.0,255.3 L231.7,260.1 L233.6,263.5 L236.1,266.1 L238.3,267.7 L241.2,269.4 L244.3,270.9 L247.8,272.2 L255.3,274.3 L264.4,275.8 L274.6,276.7 L287.4,277.3 L304.3,277.6 L330.0,277.8" stroke="#0000ff"/>
<path d="M194.5,277.8 L214.8,277.8 L215.4,277.5 L215.7,276.8 L216.2,272.8 L216.6,262.4 L218.4,188.7 L218.7,183.1 L219.2,179.0 L219.6,177.8 L220.2,177.6 L221.0,180.6 L221.9,186.8 L226.3,229.6 L227.6,240.6 L228.8,248.2 L230.2,254.5 L231.8,259.7 L233.6,263.3 L236.1,266.1 L238.2,267.8 L240.7,269.4 L243.9,270.9 L247.3,272.3 L251.0,273.4 L254.9,274.4 L263.8,275.9 L273.8,276.8 L286.6,277.3 L303.7,277.6 L330.0,277.8" stroke="#008080"/>
<path d="M194.5,277.8 L214.7,277.8 L215.3,277.5 L215.6,276.7 L216.0,272.4 L216.5,261.3 L218.3,184.1 L218.9,175.1 L219.3,173.1 L219.9,172.8 L220.2,173.2 L220.7,175.2 L221.8,182.6 L226.1,228.0 L227.5,239.5 L228.7,247.5 L230.0,254.1 L231.7,259.6 L233.5,263.3 L234.5,264.8 L235.9,266.3 L238.0,268.0 L240.6,269.6 L243.6,271.1 L247.0,272.4 L250.7,273.6 L254.4,274.5 L263.2,275.9 L273.1,276.8 L285.9,277.4 L302.9,277.7 L330.0,277.8" stroke="#000000"/>
</g>
<path d="M194.5,154.9V278.40000000000003M194.0,155.4H330.7" fill="none" stroke="#5a5a5a" stroke-width="1"/>
<path d="M330.0,154.9V278.5M194.0,277.8H330.7" fill="none" stroke="#5a5a5a" stroke-width="1.45"/>
<text x="194.50" y="287.00" font-size="6.7" fill="#333" text-anchor="middle">0</text>
<text x="221.60" y="287.00" font-size="6.7" fill="#333" text-anchor="middle">5</text>
<text x="248.70" y="287.00" font-size="6.7" fill="#333" text-anchor="middle">10</text>
<text x="275.80" y="287.00" font-size="6.7" fill="#333" text-anchor="middle">15</text>
<text x="302.90" y="287.00" font-size="6.7" fill="#333" text-anchor="middle">20</text>
<text x="330.00" y="287.00" font-size="6.7" fill="#333" text-anchor="middle">25</text>
<text x="192.20" y="281.10" font-size="6.7" fill="#333" text-anchor="end">0</text>
<text x="192.20" y="263.89" font-size="6.7" fill="#333" text-anchor="end">0.5</text>
<text x="192.20" y="246.67" font-size="6.7" fill="#333" text-anchor="end">1</text>
<text x="192.20" y="229.46" font-size="6.7" fill="#333" text-anchor="end">1.5</text>
<text x="192.20" y="212.24" font-size="6.7" fill="#333" text-anchor="end">2</text>
<text x="192.20" y="195.03" font-size="6.7" fill="#333" text-anchor="end">2.5</text>
<text x="192.20" y="177.81" font-size="6.7" fill="#333" text-anchor="end">3</text>
<text x="192.20" y="160.60" font-size="6.7" fill="#333" text-anchor="end">3.5</text>
<path d="M194.50,277.8v-1.4M194.50,155.4v1.4M221.60,277.8v-1.4M221.60,155.4v1.4M248.70,277.8v-1.4M248.70,155.4v1.4M275.80,277.8v-1.4M275.80,155.4v1.4M302.90,277.8v-1.4M302.90,155.4v1.4M330.00,277.8v-1.4M330.00,155.4v1.4M194.5,277.80h1.4M330.0,277.80h-1.4M194.5,260.59h1.4M330.0,260.59h-1.4M194.5,243.37h1.4M330.0,243.37h-1.4M194.5,226.16h1.4M330.0,226.16h-1.4M194.5,208.94h1.4M330.0,208.94h-1.4M194.5,191.73h1.4M330.0,191.73h-1.4M194.5,174.51h1.4M330.0,174.51h-1.4M194.5,157.30h1.4M330.0,157.30h-1.4" stroke="#5a5a5a" stroke-width="1.0"/>
<text x="262.25" y="295.80" font-size="6.6" fill="#333" text-anchor="middle">filtration value</text>
<text transform="translate(180.00,216.60) rotate(-90)" font-size="6.8" fill="#333" text-anchor="middle">PBN</text>
<text x="197.10" y="165.80" font-size="9.8" font-weight="bold" fill="#111">(<tspan>b</tspan><tspan font-size="6.8" dy="2.4">2</tspan><tspan dy="-2.4">)</tspan></text>
<text x="257.7" y="175.70" font-size="10.3" font-weight="bold" fill="#111" textLength="27.6" lengthAdjust="spacingAndGlyphs">UREA</text>
<text x="257.7" y="191.00" font-size="10.3" font-weight="bold" fill="#111">R<tspan font-size="6.6" dy="2.7">c</tspan><tspan dy="-2.7"> = 12Å</tspan></text>
<line x1="306.00" y1="163.00" x2="316.00" y2="163.00" stroke="#ffff00" stroke-width="1.0"/>
<text x="317.00" y="165.25" font-size="6.2" fill="#222">1M</text>
<line x1="306.00" y1="171.00" x2="316.00" y2="171.00" stroke="#ff00ff" stroke-width="1.0"/>
<text x="317.00" y="173.25" font-size="6.2" fill="#222">2M</text>
<line x1="306.00" y1="179.00" x2="316.00" y2="179.00" stroke="#00ffff" stroke-width="1.0"/>
<text x="317.00" y="181.25" font-size="6.2" fill="#222">3M</text>
<line x1="306.00" y1="187.00" x2="316.00" y2="187.00" stroke="#ff0000" stroke-width="1.0"/>
<text x="317.00" y="189.25" font-size="6.2" fill="#222">4M</text>
<line x1="306.00" y1="195.00" x2="316.00" y2="195.00" stroke="#00ff00" stroke-width="1.0"/>
<text x="317.00" y="197.25" font-size="6.2" fill="#222">5M</text>
<line x1="306.00" y1="203.00" x2="316.00" y2="203.00" stroke="#0000ff" stroke-width="1.0"/>
<text x="317.00" y="205.25" font-size="6.2" fill="#222">6M</text>
<line x1="306.00" y1="211.00" x2="316.00" y2="211.00" stroke="#008080" stroke-width="1.0"/>
<text x="317.00" y="213.25" font-size="6.2" fill="#222">7M</text>
<line x1="306.00" y1="219.00" x2="316.00" y2="219.00" stroke="#000000" stroke-width="1.0"/>
<text x="317.00" y="221.25" font-size="6.2" fill="#222">8M</text>
<clipPath id="cb3"><rect x="370.5" y="155.4" width="135.5" height="121.65"/></clipPath>
<g clip-path="url(#cb3)" fill="none" stroke-width="1.0" stroke-linejoin="round">
<path d="M370.5,277.8 L393.2,277.8 L410.8,276.8 L431.8,275.4 L443.7,275.0 L451.5,275.3 L467.6,276.9 L476.3,277.4 L487.3,277.7 L506.0,277.8" stroke="#ffff00"/>
<path d="M370.5,277.8 L392.9,277.7 L393.5,277.5 L394.1,277.0 L395.9,273.9 L396.5,273.2 L397.1,272.9 L398.2,272.9 L400.8,274.0 L402.1,274.4 L403.5,274.4 L405.0,274.3 L409.0,273.0 L418.8,268.9 L422.9,267.5 L427.1,266.5 L431.2,266.1 L435.2,266.4 L439.5,267.3 L443.7,268.7 L457.7,274.1 L462.8,275.5 L467.9,276.5 L473.8,277.2 L480.9,277.6 L506.0,277.8" stroke="#ff00ff"/>
<path d="M370.5,277.8 L391.0,277.8 L392.0,277.7 L392.6,277.4 L393.2,276.0 L393.8,272.5 L395.9,248.8 L396.5,246.1 L397.1,245.4 L397.4,245.6 L398.1,247.3 L400.5,257.5 L401.8,261.9 L402.6,263.6 L403.5,265.0 L404.4,265.9 L405.4,266.4 L406.8,266.5 L408.7,266.2 L417.6,263.6 L421.7,262.7 L425.0,262.3 L428.0,262.5 L431.5,263.1 L435.1,264.3 L439.2,266.0 L448.6,270.7 L453.5,272.8 L458.9,274.8 L464.3,276.1 L470.6,277.0 L478.1,277.5 L487.8,277.7 L506.0,277.8" stroke="#00ffff"/>
<path d="M370.5,277.8 L392.6,277.8 L393.1,277.6 L393.2,277.3 L393.5,274.8 L393.8,267.9 L394.7,226.7 L395.2,213.4 L395.8,207.5 L396.1,206.9 L396.7,206.8 L397.0,206.9 L397.4,208.0 L398.4,212.6 L401.8,241.1 L403.5,251.4 L404.4,255.3 L405.4,258.5 L406.6,260.7 L408.0,262.1 L409.0,262.6 L410.4,262.9 L421.7,263.9 L425.8,264.6 L429.7,265.6 L436.6,267.9 L452.0,274.5 L456.6,275.9 L461.1,276.9 L466.1,277.4 L472.4,277.7 L506.0,277.8" stroke="#ff0000"/>
<path d="M370.5,277.8 L392.5,277.8 L392.9,277.7 L393.1,277.5 L393.4,275.7 L393.7,269.5 L394.7,215.4 L395.2,201.2 L395.6,195.8 L395.9,194.8 L396.2,194.6 L396.7,194.5 L397.0,194.7 L397.4,196.1 L398.4,201.4 L402.0,235.3 L403.9,249.2 L405.0,254.0 L406.0,257.4 L407.2,259.8 L408.7,261.4 L409.8,262.1 L411.1,262.5 L418.5,263.9 L423.9,265.4 L429.4,267.3 L445.5,273.6 L451.0,275.3 L456.5,276.4 L463.1,277.2 L470.9,277.6 L506.0,277.8" stroke="#00ff00"/>
<path d="M370.5,277.8 L392.5,277.8 L392.9,277.6 L393.1,277.3 L393.4,274.5 L393.7,266.2 L395.0,192.3 L395.6,183.4 L395.9,182.5 L396.7,182.3 L397.1,183.0 L397.6,184.8 L398.5,191.1 L402.3,229.6 L403.3,238.5 L404.4,245.6 L405.6,251.5 L406.8,255.5 L408.3,258.7 L410.1,260.8 L411.8,262.0 L414.5,263.4 L424.4,268.2 L430.4,270.9 L438.6,273.7 L447.0,275.7 L455.7,276.8 L466.3,277.5 L479.8,277.7 L506.0,277.8" stroke="#0000ff"/>
<path d="M370.5,277.8 L392.3,277.8 L392.8,277.7 L392.9,277.4 L393.2,275.1 L393.5,267.3 L394.9,189.4 L395.5,179.0 L395.8,177.9 L396.1,177.6 L396.5,177.5 L397.0,178.1 L397.4,179.9 L398.4,186.2 L402.3,227.3 L403.5,237.8 L404.5,244.9 L405.7,251.0 L407.1,255.5 L408.6,258.7 L410.5,261.1 L412.8,262.8 L417.0,265.3 L422.7,268.3 L427.9,270.6 L431.9,272.2 L436.1,273.6 L440.4,274.7 L444.9,275.6 L453.9,276.8 L464.9,277.4 L479.4,277.7 L506.0,277.8" stroke="#008080"/>
<path d="M370.5,277.8 L392.2,277.8 L392.6,277.7 L392.8,277.3 L393.1,274.7 L393.4,266.4 L394.7,184.8 L395.3,174.3 L395.6,173.1 L395.9,172.8 L396.4,172.8 L396.8,173.5 L397.3,175.4 L398.2,181.9 L402.3,226.3 L403.5,237.0 L404.5,244.3 L405.9,251.2 L407.2,255.7 L408.9,259.2 L410.8,261.6 L413.3,263.5 L417.0,265.9 L421.7,268.4 L426.2,270.5 L430.3,272.1 L434.5,273.4 L438.9,274.5 L443.5,275.5 L453.0,276.7 L464.7,277.4 L480.0,277.7 L506.0,277.8" stroke="#000000"/>
</g>
<path d="M370.5,154.9V278.40000000000003M370.0,155.4H506.7" fill="none" stroke="#5a5a5a" stroke-width="1"/>
<path d="M506.0,154.9V278.5M370.0,277.8H506.7" fill="none" stroke="#5a5a5a" stroke-width="1.45"/>
<text x="370.50" y="287.00" font-size="6.7" fill="#333" text-anchor="middle">0</text>
<text x="397.60" y="287.00" font-size="6.7" fill="#333" text-anchor="middle">5</text>
<text x="424.70" y="287.00" font-size="6.7" fill="#333" text-anchor="middle">10</text>
<text x="451.80" y="287.00" font-size="6.7" fill="#333" text-anchor="middle">15</text>
<text x="478.90" y="287.00" font-size="6.7" fill="#333" text-anchor="middle">20</text>
<text x="506.00" y="287.00" font-size="6.7" fill="#333" text-anchor="middle">25</text>
<text x="368.20" y="281.10" font-size="6.7" fill="#333" text-anchor="end">0</text>
<text x="368.20" y="267.18" font-size="6.7" fill="#333" text-anchor="end">0.5</text>
<text x="368.20" y="253.25" font-size="6.7" fill="#333" text-anchor="end">1</text>
<text x="368.20" y="239.33" font-size="6.7" fill="#333" text-anchor="end">1.5</text>
<text x="368.20" y="225.40" font-size="6.7" fill="#333" text-anchor="end">2</text>
<text x="368.20" y="211.48" font-size="6.7" fill="#333" text-anchor="end">2.5</text>
<text x="368.20" y="197.55" font-size="6.7" fill="#333" text-anchor="end">3</text>
<text x="368.20" y="183.62" font-size="6.7" fill="#333" text-anchor="end">3.5</text>
<text x="368.20" y="169.70" font-size="6.7" fill="#333" text-anchor="end">4</text>
<path d="M370.50,277.8v-1.4M370.50,155.4v1.4M397.60,277.8v-1.4M397.60,155.4v1.4M424.70,277.8v-1.4M424.70,155.4v1.4M451.80,277.8v-1.4M451.80,155.4v1.4M478.90,277.8v-1.4M478.90,155.4v1.4M506.00,277.8v-1.4M506.00,155.4v1.4M370.5,277.80h1.4M506.0,277.80h-1.4M370.5,263.88h1.4M506.0,263.88h-1.4M370.5,249.95h1.4M506.0,249.95h-1.4M370.5,236.03h1.4M506.0,236.03h-1.4M370.5,222.10h1.4M506.0,222.10h-1.4M370.5,208.18h1.4M506.0,208.18h-1.4M370.5,194.25h1.4M506.0,194.25h-1.4M370.5,180.32h1.4M506.0,180.32h-1.4M370.5,166.40h1.4M506.0,166.40h-1.4" stroke="#5a5a5a" stroke-width="1.0"/>
<text x="438.25" y="295.80" font-size="6.6" fill="#333" text-anchor="middle">filtration value</text>
<text transform="translate(356.00,216.60) rotate(-90)" font-size="6.8" fill="#333" text-anchor="middle">PBN</text>
<text x="373.10" y="165.80" font-size="9.8" font-weight="bold" fill="#111">(<tspan>b</tspan><tspan font-size="6.8" dy="2.4">3</tspan><tspan dy="-2.4">)</tspan></text>
<text x="440.0" y="175.70" font-size="10.3" font-weight="bold" fill="#111" textLength="27.6" lengthAdjust="spacingAndGlyphs">UREA</text>
<text x="440.0" y="191.00" font-size="10.3" font-weight="bold" fill="#111">R<tspan font-size="6.6" dy="2.7">c</tspan><tspan dy="-2.7"> = 15Å</tspan></text>
<line x1="482.00" y1="163.00" x2="492.00" y2="163.00" stroke="#ffff00" stroke-width="1.0"/>
<text x="493.00" y="165.25" font-size="6.2" fill="#222">1M</text>
<line x1="482.00" y1="171.00" x2="492.00" y2="171.00" stroke="#ff00ff" stroke-width="1.0"/>
<text x="493.00" y="173.25" font-size="6.2" fill="#222">2M</text>
<line x1="482.00" y1="179.00" x2="492.00" y2="179.00" stroke="#00ffff" stroke-width="1.0"/>
<text x="493.00" y="181.25" font-size="6.2" fill="#222">3M</text>
<line x1="482.00" y1="187.00" x2="492.00" y2="187.00" stroke="#ff0000" stroke-width="1.0"/>
<text x="493.00" y="189.25" font-size="6.2" fill="#222">4M</text>
<line x1="482.00" y1="195.00" x2="492.00" y2="195.00" stroke="#00ff00" stroke-width="1.0"/>
<text x="493.00" y="197.25" font-size="6.2" fill="#222">5M</text>
<line x1="482.00" y1="203.00" x2="492.00" y2="203.00" stroke="#0000ff" stroke-width="1.0"/>
<text x="493.00" y="205.25" font-size="6.2" fill="#222">6M</text>
<line x1="482.00" y1="211.00" x2="492.00" y2="211.00" stroke="#008080" stroke-width="1.0"/>
<text x="493.00" y="213.25" font-size="6.2" fill="#222">7M</text>
<line x1="482.00" y1="219.00" x2="492.00" y2="219.00" stroke="#000000" stroke-width="1.0"/>
<text x="493.00" y="221.25" font-size="6.2" fill="#222">8M</text>
<clipPath id="cb4"><rect x="546.7" y="155.4" width="134.0999999999999" height="121.65"/></clipPath>
<g clip-path="url(#cb4)" fill="none" stroke-width="1.0" stroke-linejoin="round">
<path d="M546.7,277.8 L586.3,277.7 L593.6,277.2 L599.1,276.2 L601.7,275.4 L604.2,274.3 L606.7,272.9 L609.1,271.4 L613.3,268.0 L621.6,260.2 L625.1,257.6 L628.4,255.9 L630.0,255.5 L631.5,255.4 L633.3,255.6 L635.1,256.0 L637.0,256.9 L638.9,258.0 L642.5,260.7 L653.1,269.8 L656.8,272.4 L660.4,274.3 L664.4,275.8 L668.9,276.8 L674.1,277.4 L680.8,277.7" stroke="#ffff00"/>
<path d="M546.7,277.8 L569.3,277.8 L570.5,277.2 L572.5,275.1 L573.5,274.8 L574.6,275.0 L578.1,276.9 L580.8,277.5 L583.1,277.6 L585.7,277.4 L588.1,276.9 L590.2,276.3 L593.5,274.7 L596.6,272.0 L599.9,268.1 L605.7,259.3 L607.9,256.4 L609.3,255.0 L610.5,254.1 L611.7,253.5 L612.9,253.3 L614.2,253.5 L615.5,253.9 L618.2,255.7 L621.2,258.6 L628.1,267.0 L631.5,270.7 L633.4,272.3 L635.5,273.8 L637.6,275.0 L639.7,275.9 L644.3,277.1 L650.1,277.6 L680.8,277.8" stroke="#ff00ff"/>
<path d="M546.7,277.8 L567.7,277.8 L569.1,277.6 L569.6,277.0 L570.2,275.3 L572.2,265.3 L572.8,264.0 L573.5,263.6 L574.3,264.5 L576.9,270.7 L578.4,273.0 L579.3,273.8 L580.2,274.2 L581.3,274.3 L582.5,274.0 L584.8,272.8 L587.8,270.6 L596.9,262.3 L600.0,259.7 L601.7,258.7 L603.3,258.0 L604.8,257.6 L606.3,257.5 L609.1,258.0 L612.3,259.5 L615.4,261.8 L623.1,268.8 L627.0,271.9 L631.5,274.5 L636.1,276.2 L641.2,277.2 L647.7,277.7 L680.8,277.8" stroke="#00ffff"/>
<path d="M546.7,277.8 L568.0,277.8 L568.6,277.7 L568.9,277.3 L569.3,275.0 L569.6,271.2 L571.3,236.6 L571.9,232.7 L572.2,232.2 L572.8,231.9 L573.2,232.9 L573.8,236.5 L576.1,257.3 L577.2,266.0 L577.8,269.0 L578.6,271.5 L579.5,273.2 L580.4,274.0 L581.9,274.1 L584.1,273.3 L595.6,267.6 L599.6,265.9 L603.3,264.9 L606.9,264.7 L610.2,265.1 L613.6,266.1 L617.3,267.6 L625.8,271.9 L630.0,273.7 L634.8,275.4 L639.7,276.5 L645.3,277.3 L652.2,277.6 L680.8,277.8" stroke="#ff0000"/>
<path d="M546.7,277.8 L568.3,277.8 L568.8,277.7 L569.1,277.1 L569.5,273.5 L569.8,267.4 L571.3,220.0 L571.7,215.4 L572.0,214.3 L572.6,214.0 L572.9,215.1 L573.4,219.1 L575.6,249.2 L576.9,262.7 L577.7,267.6 L578.6,271.4 L579.5,273.6 L580.7,275.0 L582.0,275.4 L584.1,275.1 L587.8,273.8 L596.0,270.3 L599.4,269.1 L603.2,268.2 L606.7,267.9 L609.6,268.2 L612.6,268.9 L615.8,270.1 L623.7,273.5 L627.6,274.9 L632.1,276.1 L636.7,277.0 L641.9,277.5 L648.5,277.7 L680.8,277.8" stroke="#00ff00"/>
<path d="M546.7,277.8 L568.0,277.8 L568.5,277.7 L568.8,277.4 L569.2,274.8 L569.6,265.5 L570.7,222.9 L571.1,211.0 L571.6,205.8 L571.9,204.7 L572.5,204.3 L572.8,205.7 L573.2,210.4 L575.6,247.4 L576.9,262.3 L577.7,267.6 L578.6,271.7 L579.6,274.4 L580.8,275.7 L582.3,276.1 L584.8,275.8 L589.2,274.6 L601.1,270.7 L604.8,269.9 L608.4,269.7 L611.2,270.0 L614.2,270.6 L629.1,275.4 L633.6,276.4 L638.2,277.1 L643.3,277.5 L649.8,277.7 L680.8,277.8" stroke="#0000ff"/>
<path d="M546.7,277.8 L568.0,277.8 L568.5,277.7 L568.8,277.3 L569.2,273.7 L569.6,260.9 L570.7,202.1 L571.1,185.7 L571.6,178.5 L571.9,177.0 L572.2,176.6 L572.5,176.5 L572.8,178.4 L573.2,184.9 L575.6,236.1 L576.9,256.6 L577.7,263.9 L578.6,269.7 L579.6,273.4 L580.8,275.4 L582.2,276.1 L584.2,276.0 L587.8,275.3 L599.6,272.2 L603.3,271.7 L606.9,271.5 L609.7,271.7 L612.7,272.2 L627.6,276.0 L632.1,276.7 L636.7,277.3 L648.5,277.7 L680.8,277.8" stroke="#008080"/>
<path d="M546.7,277.8 L568.0,277.8 L568.5,277.6 L568.8,276.8 L569.2,271.2 L569.5,261.4 L571.0,179.4 L571.4,170.9 L571.7,169.0 L572.0,168.4 L572.3,168.4 L572.6,169.9 L573.1,176.6 L575.5,231.7 L576.8,254.2 L577.7,263.6 L578.6,269.5 L579.6,273.2 L580.8,275.2 L582.0,275.8 L583.5,275.9 L593.6,274.5 L600.0,274.2 L606.3,274.7 L621.3,276.9 L630.0,277.5 L642.4,277.8 L680.8,277.8" stroke="#000000"/>
</g>
<path d="M546.7,154.9V278.40000000000003M546.2,155.4H681.5" fill="none" stroke="#5a5a5a" stroke-width="1"/>
<path d="M680.8,154.9V278.5M546.2,277.8H681.5" fill="none" stroke="#5a5a5a" stroke-width="1.45"/>
<text x="546.70" y="287.00" font-size="6.7" fill="#333" text-anchor="middle">0</text>
<text x="573.52" y="287.00" font-size="6.7" fill="#333" text-anchor="middle">5</text>
<text x="600.34" y="287.00" font-size="6.7" fill="#333" text-anchor="middle">10</text>
<text x="627.16" y="287.00" font-size="6.7" fill="#333" text-anchor="middle">15</text>
<text x="653.98" y="287.00" font-size="6.7" fill="#333" text-anchor="middle">20</text>
<text x="680.80" y="287.00" font-size="6.7" fill="#333" text-anchor="middle">25</text>
<text x="544.40" y="281.10" font-size="6.7" fill="#333" text-anchor="end">0</text>
<text x="544.40" y="266.16" font-size="6.7" fill="#333" text-anchor="end">0.05</text>
<text x="544.40" y="251.23" font-size="6.7" fill="#333" text-anchor="end">0.1</text>
<text x="544.40" y="236.29" font-size="6.7" fill="#333" text-anchor="end">0.15</text>
<text x="544.40" y="221.35" font-size="6.7" fill="#333" text-anchor="end">0.2</text>
<text x="544.40" y="206.41" font-size="6.7" fill="#333" text-anchor="end">0.25</text>
<text x="544.40" y="191.48" font-size="6.7" fill="#333" text-anchor="end">0.3</text>
<text x="544.40" y="176.54" font-size="6.7" fill="#333" text-anchor="end">0.35</text>
<text x="544.40" y="161.60" font-size="6.7" fill="#333" text-anchor="end">0.4</text>
<path d="M546.70,277.8v-1.4M546.70,155.4v1.4M573.52,277.8v-1.4M573.52,155.4v1.4M600.34,277.8v-1.4M600.34,155.4v1.4M627.16,277.8v-1.4M627.16,155.4v1.4M653.98,277.8v-1.4M653.98,155.4v1.4M680.80,277.8v-1.4M680.80,155.4v1.4M546.7,277.80h1.4M680.8,277.80h-1.4M546.7,262.86h1.4M680.8,262.86h-1.4M546.7,247.93h1.4M680.8,247.93h-1.4M546.7,232.99h1.4M680.8,232.99h-1.4M546.7,218.05h1.4M680.8,218.05h-1.4M546.7,203.11h1.4M680.8,203.11h-1.4M546.7,188.18h1.4M680.8,188.18h-1.4M546.7,173.24h1.4M680.8,173.24h-1.4M546.7,158.30h1.4M680.8,158.30h-1.4" stroke="#5a5a5a" stroke-width="1.0"/>
<text x="613.75" y="295.80" font-size="6.6" fill="#333" text-anchor="middle">filtration value</text>
<text transform="translate(530.10,216.60) rotate(-90)" font-size="6.8" fill="#333" text-anchor="middle">PBN</text>
<text x="549.30" y="165.80" font-size="9.8" font-weight="bold" fill="#111">(<tspan>b</tspan><tspan font-size="6.8" dy="2.4">4</tspan><tspan dy="-2.4">)</tspan></text>
<text x="606.9" y="175.70" font-size="10.3" font-weight="bold" fill="#111" textLength="27.6" lengthAdjust="spacingAndGlyphs">UREA</text>
<text x="606.9" y="191.00" font-size="10.3" font-weight="bold" fill="#111" textLength="32.95" lengthAdjust="spacingAndGlyphs">Global</text>
<line x1="656.80" y1="163.00" x2="666.80" y2="163.00" stroke="#ffff00" stroke-width="1.0"/>
<text x="667.80" y="165.25" font-size="6.2" fill="#222">1M</text>
<line x1="656.80" y1="171.00" x2="666.80" y2="171.00" stroke="#ff00ff" stroke-width="1.0"/>
<text x="667.80" y="173.25" font-size="6.2" fill="#222">2M</text>
<line x1="656.80" y1="179.00" x2="666.80" y2="179.00" stroke="#00ffff" stroke-width="1.0"/>
<text x="667.80" y="181.25" font-size="6.2" fill="#222">3M</text>
<line x1="656.80" y1="187.00" x2="666.80" y2="187.00" stroke="#ff0000" stroke-width="1.0"/>
<text x="667.80" y="189.25" font-size="6.2" fill="#222">4M</text>
<line x1="656.80" y1="195.00" x2="666.80" y2="195.00" stroke="#00ff00" stroke-width="1.0"/>
<text x="667.80" y="197.25" font-size="6.2" fill="#222">5M</text>
<line x1="656.80" y1="203.00" x2="666.80" y2="203.00" stroke="#0000ff" stroke-width="1.0"/>
<text x="667.80" y="205.25" font-size="6.2" fill="#222">6M</text>
<line x1="656.80" y1="211.00" x2="666.80" y2="211.00" stroke="#008080" stroke-width="1.0"/>
<text x="667.80" y="213.25" font-size="6.2" fill="#222">7M</text>
<line x1="656.80" y1="219.00" x2="666.80" y2="219.00" stroke="#000000" stroke-width="1.0"/>
<text x="667.80" y="221.25" font-size="6.2" fill="#222">8M</text>
</svg></body></html>
